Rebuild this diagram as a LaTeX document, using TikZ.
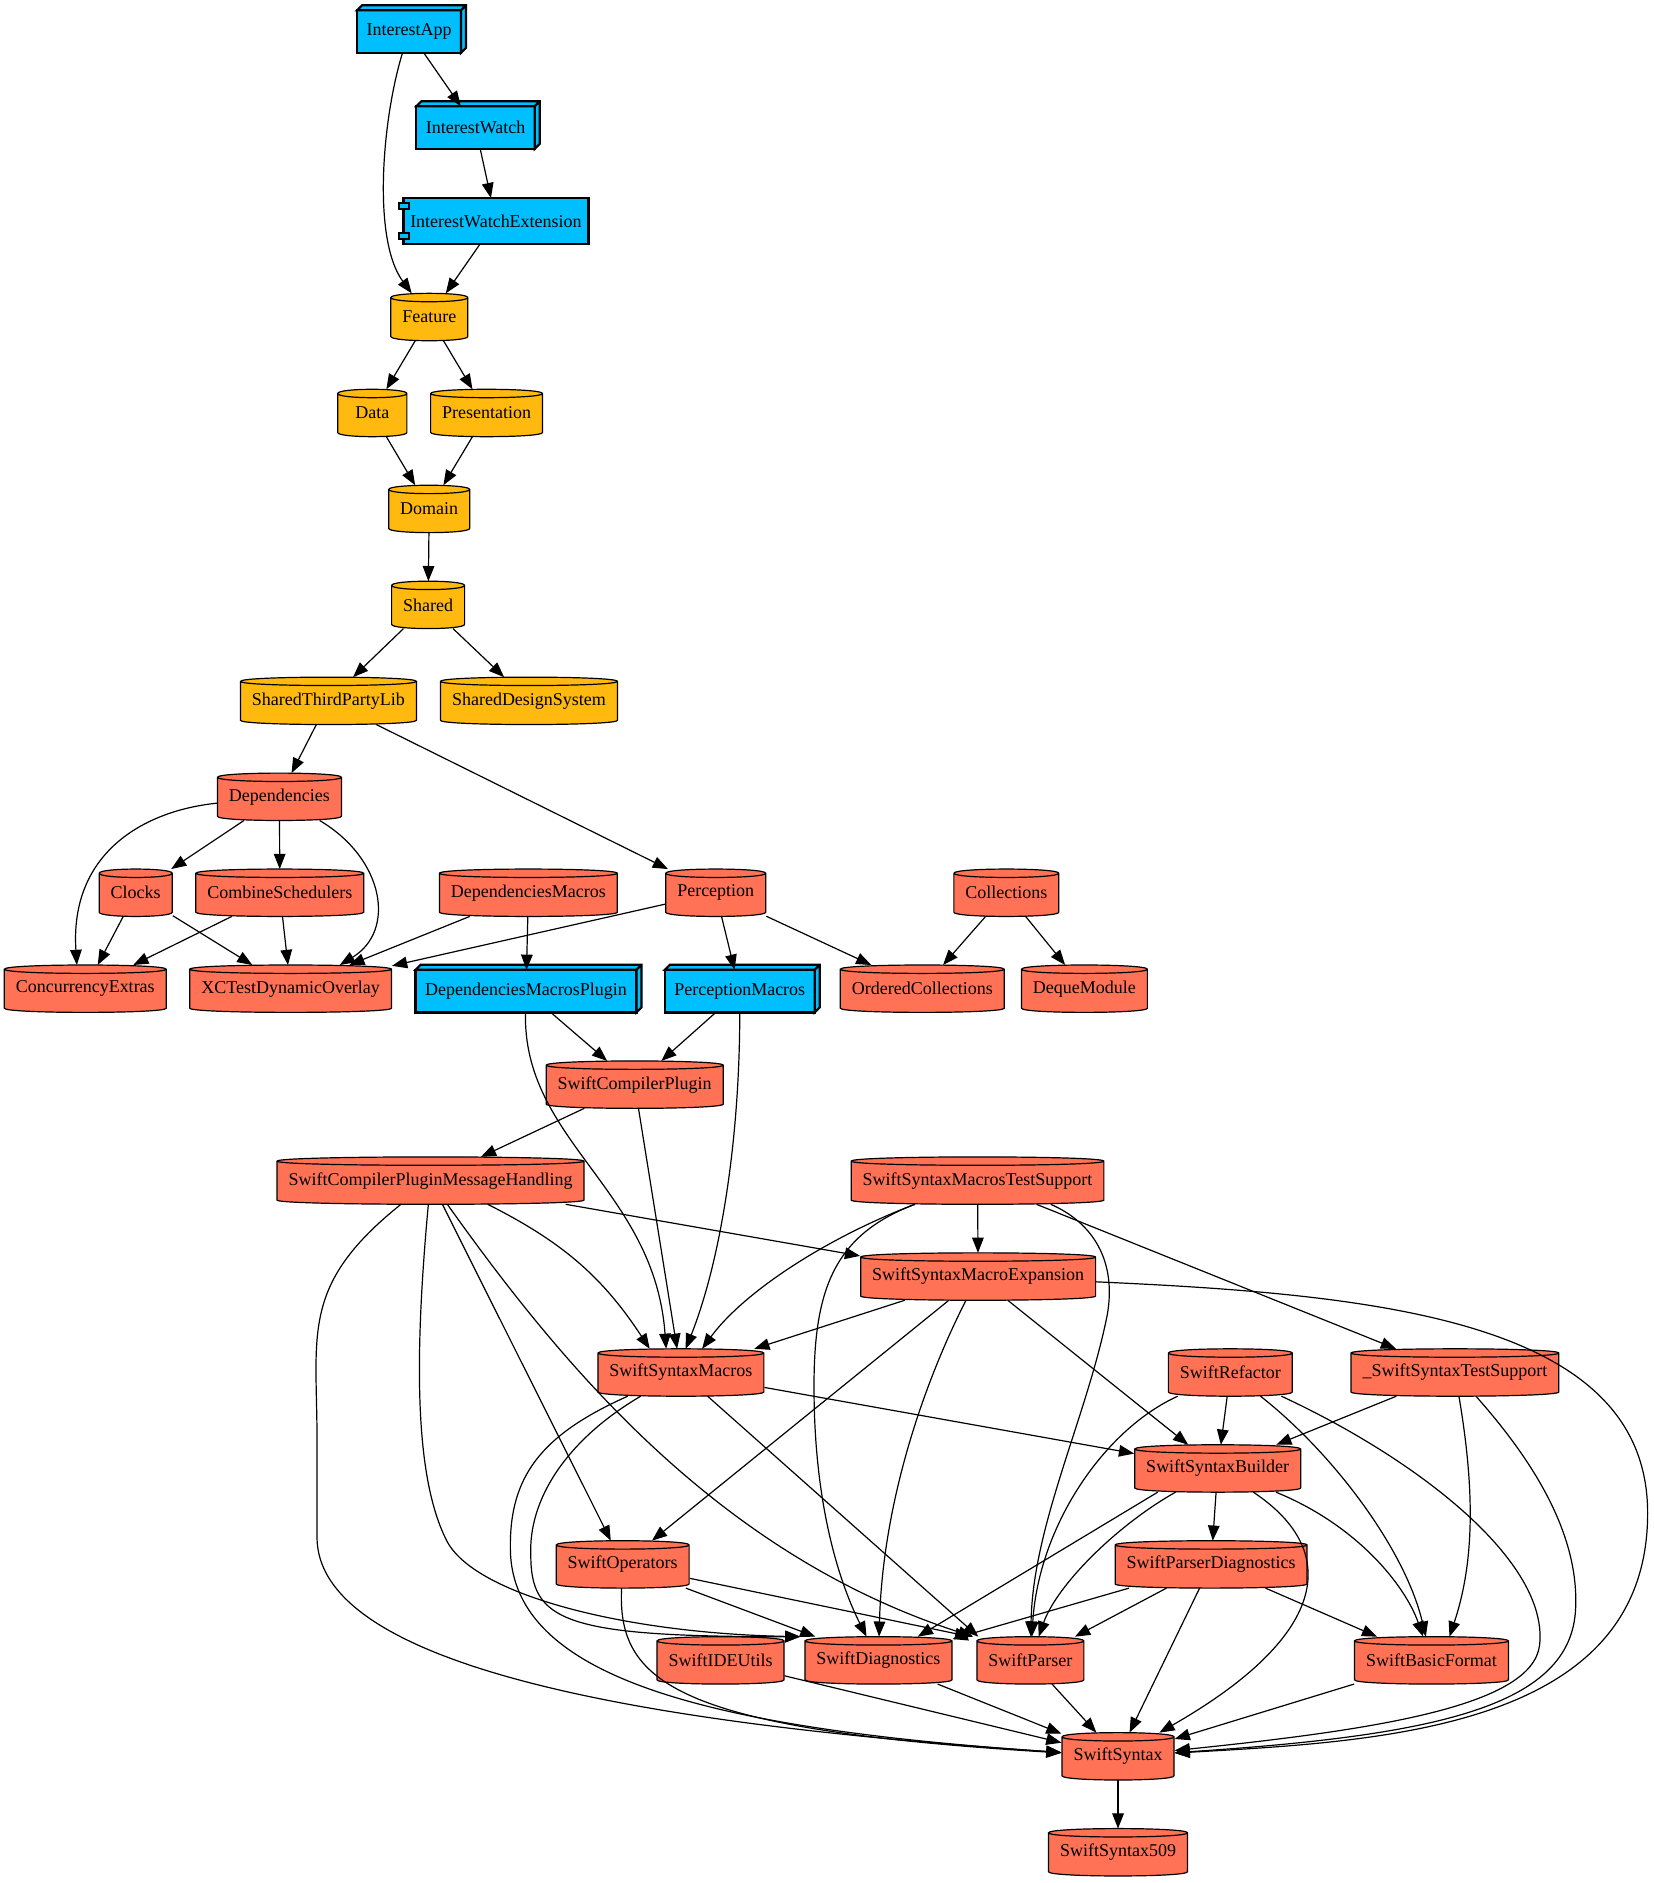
\documentclass[tikz,border=0pt]{standalone}
\usepackage{fontspec}
\setmainfont{Liberation Serif}
\usetikzlibrary{arrows.meta}
\definecolor{appblue}{HTML}{00BFFF}
\definecolor{localorange}{HTML}{FFB90F}
\definecolor{extred}{HTML}{FF7256}

\makeatletter
\def\cyl@k{2.8pt}
\pgfdeclareshape{pkgcyl}{%
    \inheritsavedanchors[from=rectangle]%
    \inheritanchorborder[from=rectangle]%
    \inheritanchor[from=rectangle]{center}%
    \inheritanchor[from=rectangle]{north}%
    \inheritanchor[from=rectangle]{south}%
    \inheritanchor[from=rectangle]{east}%
    \inheritanchor[from=rectangle]{west}%
    \inheritanchor[from=rectangle]{north east}%
    \inheritanchor[from=rectangle]{north west}%
    \inheritanchor[from=rectangle]{south east}%
    \inheritanchor[from=rectangle]{south west}%
    \inheritanchor[from=rectangle]{mid}%
    \inheritanchor[from=rectangle]{base}%
    \backgroundpath{%
        \southwest\pgf@xa=\pgf@x\pgf@ya=\pgf@y
        \northeast\pgf@xb=\pgf@x\pgf@yb=\pgf@y
        \pgfmathsetlength\pgf@xc{\pgfkeysvalueof{/pgf/outer xsep}}%
        \pgfmathsetlength\pgf@yc{\pgfkeysvalueof{/pgf/outer ysep}}%
        \advance\pgf@xa by\pgf@xc\advance\pgf@ya by\pgf@yc
        \advance\pgf@xb by-\pgf@xc\advance\pgf@yb by-\pgf@yc
        \edef\cyl@l{\the\pgf@xa}\edef\cyl@r{\the\pgf@xb}%
        \edef\cyl@b{\the\pgf@ya}\edef\cyl@t{\the\pgf@yb}%
        \pgfpathmoveto{\pgfpoint{\cyl@l}{\cyl@t}}%
        \pgfpathcurveto{\pgfpoint{\cyl@l}{\cyl@t+\cyl@k}}{\pgfpoint{\cyl@r}{\cyl@t+\cyl@k}}{\pgfpoint{\cyl@r}{\cyl@t}}%
        \pgfpathlineto{\pgfpoint{\cyl@r}{\cyl@b}}%
        \pgfpathcurveto{\pgfpoint{\cyl@r}{\cyl@b-\cyl@k}}{\pgfpoint{\cyl@l}{\cyl@b-\cyl@k}}{\pgfpoint{\cyl@l}{\cyl@b}}%
        \pgfpathclose
        \pgfpathmoveto{\pgfpoint{\cyl@r}{\cyl@t}}%
        \pgfpathcurveto{\pgfpoint{\cyl@r}{\cyl@t-\cyl@k}}{\pgfpoint{\cyl@l}{\cyl@t-\cyl@k}}{\pgfpoint{\cyl@l}{\cyl@t}}%
    }%
}
\makeatother

\tikzset{
    target/.style={draw, line width=1.1pt, fill=appblue, minimum height=21.3pt, inner xsep=4.75pt, inner ysep=0pt, outer sep=0pt},
    module/.style={shape=pkgcyl, draw, line width=0.6pt, fill=#1, minimum height=19.5pt, minimum width=34.6pt, inner xsep=5.75pt, inner ysep=0pt, outer xsep=0.3pt, outer ysep=2.1pt},
    local/.style={module=localorange},
    pkg/.style={module=extred},
    dep/.style={-{Triangle[length=7.6pt,width=5.8pt]}, line width=0.6pt},
}

\begin{document}
\begin{tikzpicture}[x=0.6006pt, y=-0.6006pt, font=\fontsize{9}{10.8}\selectfont]
    \useasboundingbox (0,0) rectangle (1377,1568);

    \node[target] (app) at (340.6,26.3) {InterestApp};
    \node[target] (watch) at (396,106.2) {InterestWatch};
    \node[target, minimum width=92.5pt, minimum height=23pt, inner xsep=0pt] (watchext) at (413,184.1) {InterestWatchExtension};
    \node[local] (feature) at (357.5,264) {Feature};
    \node[local] (data) at (310,343.9) {Data};
    \node[local] (presentation) at (405.2,343.9) {Presentation};
    \node[local] (domain) at (357.4,423.8) {Domain};
    \node[local] (shared) at (356.5,503.7) {Shared};
    \node[local] (thirdparty) at (273.5,583.6) {SharedThirdPartyLib};
    \node[local] (designsystem) at (440.5,583.6) {SharedDesignSystem};
    \node[pkg] (deps) at (232.7,663.5) {Dependencies};
    \node[pkg] (clocks) at (113,743.4) {Clocks};
    \node[pkg] (combine) at (233,743.4) {CombineSchedulers};
    \node[pkg] (depmacros) at (440,743.4) {DependenciesMacros};
    \node[pkg] (perception) at (596,743.4) {Perception};
    \node[pkg] (collections) at (838,743.4) {Collections};
    \node[pkg] (concurrency) at (71,823.3) {ConcurrencyExtras};
    \node[pkg] (xctdo) at (242,823.3) {XCTestDynamicOverlay};
    \node[target] (depplugin) at (438,825.3) {DependenciesMacrosPlugin};
    \node[target] (permacros) at (616,825.3) {PerceptionMacros};
    \node[pkg] (ordered) at (768,823.3) {OrderedCollections};
    \node[pkg] (deque) at (903,823.3) {DequeModule};
    \node[pkg] (compplugin) at (528.5,903.2) {SwiftCompilerPlugin};
    \node[pkg] (msghandling) at (358.5,983.1) {SwiftCompilerPluginMessageHandling};
    \node[pkg] (macrotest) at (814,983.1) {SwiftSyntaxMacrosTestSupport};
    \node[pkg] (macroexp) at (814.5,1063) {SwiftSyntaxMacroExpansion};
    \node[pkg] (macros) at (567,1142.9) {SwiftSyntaxMacros};
    \node[pkg] (refactor) at (1024.5,1142.9) {SwiftRefactor};
    \node[pkg] (testsupport) at (1211.5,1142.9) {\_SwiftSyntaxTestSupport};
    \node[pkg] (builder) at (1014,1222.8) {SwiftSyntaxBuilder};
    \node[pkg] (operators) at (518.5,1302.7) {SwiftOperators};
    \node[pkg] (parserdiag) at (1008.5,1302.7) {SwiftParserDiagnostics};
    \node[pkg] (ideutils) at (600,1382.6) {SwiftIDEUtils};
    \node[pkg] (diagnostics) at (731.5,1382.6) {SwiftDiagnostics};
    \node[pkg] (parser) at (858,1382.6) {SwiftParser};
    \node[pkg] (basicformat) at (1192,1382.6) {SwiftBasicFormat};
    \node[pkg] (syntax) at (931,1462.5) {SwiftSyntax};
    \node[pkg] (syntax509) at (931,1542.4) {SwiftSyntax509};

    \foreach \n in {app,watch,depplugin,permacros}
        \draw[line width=1.1pt, fill=appblue] (\n.north west) -- ++(2.5pt,2.5pt) -| ([shift={(2.5pt,2.5pt)}]\n.south east) -- (\n.south east) -- (\n.north east) -- cycle
            (\n.north east) -- ++(2.5pt,2.5pt);
    \draw[line width=1pt, fill=appblue] ([shift={(-2.5pt,-2.5pt)}]watchext.north west) rectangle ++(5.5pt,-2.8pt)
        ([shift={(-2.5pt,2.5pt)}]watchext.south west) rectangle ++(5.5pt,2.8pt);

    \path[dep]
    (app) edge (watch)
    (watch) edge (watchext)
    (watchext) edge (feature)
    (feature) edge (data)
    (feature) edge (presentation)
    (data) edge (domain)
    (presentation) edge (domain)
    (domain) edge (shared)
    (shared) edge (thirdparty)
    (shared) edge (designsystem)
    (thirdparty) edge (deps)
    (thirdparty) edge (perception)
    (deps) edge (clocks)
    (deps) edge (combine)
    (clocks) edge (concurrency)
    (clocks) edge (xctdo)
    (combine) edge (concurrency)
    (combine) edge (xctdo)
    (depmacros) edge (xctdo)
    (depmacros) edge (depplugin)
    (perception) edge (xctdo)
    (perception) edge (permacros)
    (perception) edge (ordered)
    (collections) edge (ordered)
    (collections) edge (deque)
    (depplugin) edge (compplugin)
    (permacros) edge (compplugin)
    (compplugin) edge (msghandling)
    (compplugin) edge (macros)
    (msghandling) edge (macroexp)
    (msghandling) edge[bend left=15] ([xshift=-15.6pt]macros.north)
    (msghandling) edge (operators)
    (macrotest) edge (macroexp)
    (macrotest) edge (testsupport)
    (macroexp) edge (macros)
    (macroexp) edge (operators)
    (macroexp) edge (builder)
    (macros) edge (builder)
    (macros) edge ([xshift=1pt]parser.north west)
    (refactor) edge (builder)
    (testsupport) edge (builder)
    (builder) edge (parserdiag)
    ([xshift=-30pt]builder.south) edge (diagnostics)
    (operators) edge (diagnostics)
    (operators) edge ([xshift=-3pt]parser.north west)
    (parserdiag) edge (diagnostics)
    (parserdiag) edge (parser)
    (parserdiag) edge (basicformat)
    (parserdiag) edge (syntax)
    (ideutils) edge (syntax)
    (diagnostics) edge (syntax)
    (parser) edge (syntax)
    (basicformat) edge (syntax)
    (syntax) edge (syntax509);

    \draw[dep] (app) .. controls (318,100) and (310,200) .. (feature);
    \draw[dep] (deps) .. controls (120,675) and (58,710) .. ([xshift=-4.2pt]concurrency.north);
    \draw[dep] (deps) .. controls (320,715) and (330,775) .. ([xshift=24.6pt]xctdo.north);
    \draw[dep] (depplugin) .. controls (435,950) and (545,990) .. ([xshift=-7.4pt]macros.north);
    \draw[dep] (permacros) .. controls (616,950) and (600,1050) .. ([xshift=2.4pt]macros.north);
    \draw[dep] (macrotest) .. controls (690,1030) and (620,1075) .. ([xshift=10.6pt]macros.north);
    \draw[dep] (macrotest) .. controls (690,1030) and (676,1080) .. (678,1170) .. controls (680,1260) and (700,1320) .. (diagnostics);
    \draw[dep] ([xshift=36.6pt]macrotest.south) .. controls (910,1018) and (930,1050) .. (922,1095) .. controls (905,1180) and (860,1270) .. (parser);
    \draw[dep] (msghandling) .. controls (345,1130) and (345,1230) .. (372,1283) .. controls (395,1328) and (520,1360) .. ([xshift=-2pt]diagnostics.north west);
    \draw[dep] (msghandling) .. controls (470,1140) and (600,1295) .. ([xshift=-1.5pt]parser.north west);
    \draw[dep] (msghandling) .. controls (250,1070) and (264,1110) .. (264,1200) -- (264,1280) .. controls (264,1400) and (600,1440) .. (syntax);
    \draw[dep] (macros) .. controls (470,1200) and (440,1250) .. (442,1295) .. controls (442,1350) and (470,1363) .. ([xshift=-2pt]diagnostics.north west);
    \draw[dep] (macros) .. controls (450,1195) and (424,1230) .. (425,1290) .. controls (426,1400) and (600,1440) .. (syntax);
    \draw[dep] (operators) .. controls (514,1400) and (560,1440) .. (syntax);
    \draw[dep] (macroexp) .. controls (770,1150) and (735,1250) .. (diagnostics);
    \draw[dep] (macroexp) .. controls (1150,1078) and (1372,1100) .. (1372,1260) .. controls (1372,1440) and (1150,1450) .. (syntax);
    \draw[dep] (refactor) .. controls (920,1190) and (865,1270) .. (parser);
    \draw[dep] (refactor) .. controls (1110,1210) and (1170,1290) .. (basicformat);
    \draw[dep] (refactor) .. controls (1180,1215) and (1290,1300) .. (1282,1370) .. controls (1276,1420) and (1150,1440) .. (syntax);
    \draw[dep] (testsupport) .. controls (1228,1240) and (1228,1300) .. ([xshift=9pt]basicformat.north);
    \draw[dep] (testsupport) .. controls (1280,1220) and (1315,1280) .. (1312,1340) .. controls (1308,1420) and (1200,1445) .. (syntax);
    \draw[dep] (builder) .. controls (930,1270) and (880,1320) .. (parser);
    \draw[dep] (builder) .. controls (1130,1270) and (1170,1320) .. (basicformat);
    \draw[dep] (builder) .. controls (1115,1290) and (1110,1360) .. (syntax);
\end{tikzpicture}
\end{document}
